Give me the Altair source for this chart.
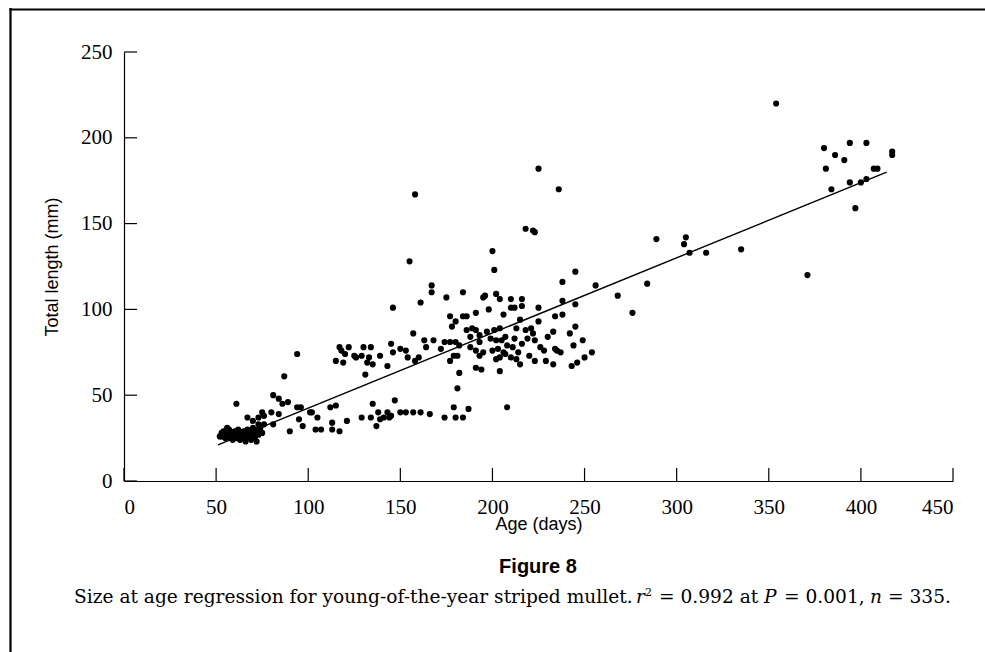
import altair as alt
import pandas as pd

# ---------------- data ----------------
days = [
    # early cluster
    52, 53, 53, 54, 54, 55, 55, 56, 56, 57, 57, 58, 58, 59, 59, 60, 60, 61, 61, 62,
    62, 63, 63, 64, 64, 65, 65, 66, 66, 67, 67, 68, 68, 69, 69, 70, 70, 71, 71, 72,
    72, 73, 73, 74, 74, 75, 76, 61, 67, 75, 73, 76, 70,
    # 80-105 days
    81, 84, 87, 94, 86, 80, 81, 90, 95, 97, 94, 101, 89, 96, 84,
    # lower band
    104, 107, 113, 117, 102, 105, 112, 115, 113, 121, 129, 134, 135, 137, 138, 141, 143, 145, 147, 150,
    153, 157, 161, 166, 174, 179, 180, 184, 187, 181, 144, 139, 208,
    # upper band
    117, 122, 115, 119, 125, 126, 130, 134, 129, 133, 132, 135, 131, 139, 143, 145, 146, 150, 153, 154,
    158, 160, 157, 146, 161, 155, 167, 167, 175, 184, 120, 118, 158,
    # dense middle
    200, 201, 163, 164, 168, 172, 174, 177, 180, 178, 177, 180, 182, 179, 181, 177, 182, 184, 186, 191,
    198, 206, 210, 212, 216, 216, 202, 196, 195, 204, 210, 186, 189, 191, 188, 193, 197, 199, 188, 193,
    191, 193, 195, 191, 194, 200, 201, 204, 202, 205, 207, 203, 206, 208, 204, 210, 202, 204, 207, 211,
    212, 213, 215, 218, 219, 216, 214, 213, 215, 220, 221, 222, 223, 225, 225, 226, 228, 223, 229, 230,
    233, 234, 235, 237, 233, 234, 238, 238, 238, 245, 245, 245, 242, 244, 249, 254, 250, 246, 243, 256,
    268,
    # outliers
    225, 236, 218, 222, 223, 276, 284, 289,
    # late fish
    305, 304, 307, 316, 335, 354, 371, 380, 394, 403, 386, 391, 381, 407, 409, 417, 417, 384, 394, 400,
    403, 397,
]
lengths = [
    26, 28, 26, 27, 29, 25, 29, 27, 31, 26, 30, 28, 25, 27, 24, 29, 26, 28, 25, 27,
    30, 26, 24, 28, 26, 27, 29, 25, 23, 28, 30, 26, 27, 29, 24, 27, 31, 28, 25, 23,
    30, 27, 33, 29, 31, 28, 33, 45, 37, 40, 37, 38, 35,
    50, 48, 61, 74, 45, 40, 33, 29, 36, 32, 43, 40, 46, 43, 39,
    30, 30, 30, 29, 40, 37, 43, 44, 34, 35, 37, 37, 45, 32, 40, 37, 40, 38, 47, 40,
    40, 40, 40, 39, 37, 43, 37, 37, 42, 54, 37, 36, 43,
    78, 78, 70, 69, 73, 72, 78, 78, 73, 72, 69, 68, 62, 73, 67, 80, 75, 77, 76, 72,
    70, 72, 86, 101, 104, 128, 114, 110, 107, 110, 74, 76, 167,
    134, 123, 82, 78, 82, 77, 81, 96, 93, 90, 81, 81, 79, 73, 73, 70, 63, 96, 96, 98,
    100, 97, 106, 101, 106, 102, 109, 108, 107, 106, 101, 88, 89, 88, 84, 85, 87, 83, 78, 81,
    76, 73, 75, 66, 65, 76, 88, 89, 82, 82, 84, 77, 75, 79, 72, 72, 71, 64, 74, 78,
    83, 89, 94, 88, 83, 80, 75, 71, 68, 73, 89, 86, 82, 93, 101, 78, 76, 70, 70, 84,
    87, 77, 76, 75, 68, 96, 97, 105, 116, 122, 103, 90, 86, 79, 82, 75, 72, 69, 67, 114,
    108,
    182, 170, 147, 146, 145, 98, 115, 141,
    142, 138, 133, 133, 135, 220, 120, 194, 197, 197, 190, 187, 182, 182, 182, 192, 190, 170, 174, 174,
    176, 159,
]

fit_days = [51, 414]
fit_lengths = [21, 180]

x_ticks = [0, 50, 100, 150, 200, 250, 300, 350, 400, 450]
y_ticks = [0, 50, 100, 150, 200, 250]

fig_label = "Figure 8"
caption_parts = [
    "Size at age regression for young-of-the-year striped mullet.",
    "r", "2", "= 0.992 at", "P", "= 0.001,", "n", "= 335.",
]

# ---------------- layout ----------------
W, H = 829, 429
PAD_L, PAD_T = 124, 52
SERIF = "DejaVu Serif"
TICK_FONT = "Liberation Serif, Times New Roman, serif"

pts = pd.DataFrame({"Age": days, "Length": lengths})
fit = pd.DataFrame({"Age": fit_days, "Length": fit_lengths})
xt = pd.DataFrame({"Age": x_ticks})
yt = pd.DataFrame({"Length": y_ticks})
one = pd.DataFrame({"k": [0]})

xs = alt.Scale(domain=[0, 450], nice=False, zero=False)
ys = alt.Scale(domain=[0, 250], nice=False, zero=False)

points = alt.Chart(pts).mark_circle(size=38, color="black", opacity=1).encode(
    x=alt.X("Age:Q", scale=xs,
            axis=alt.Axis(title="Age (days)", values=x_ticks, labelPadding=15,
                          labelFont=TICK_FONT, labelFontSize=21,
                          titleY=48, titleBaseline="alphabetic")),
    y=alt.Y("Length:Q", scale=ys,
            axis=alt.Axis(title="Total length (mm)", values=y_ticks, labelPadding=12,
                          labelFont=TICK_FONT, labelFontSize=21,
                          titleX=-67, titleY=H / 2, titleBaseline="alphabetic")),
)

line = alt.Chart(fit).mark_line(color="black", strokeWidth=1.4).encode(
    x=alt.X("Age:Q", scale=xs), y=alt.Y("Length:Q", scale=ys)
)

xtick_rules = alt.Chart(xt).mark_rule(color="black", strokeWidth=1.2).encode(
    x=alt.X("Age:Q", scale=xs), y=alt.value(H), y2=alt.value(H - 13)
)
ytick_rules = alt.Chart(yt).mark_rule(color="black", strokeWidth=1.2).encode(
    y=alt.Y("Length:Q", scale=ys), x=alt.value(0), x2=alt.value(13)
)

frame_left = alt.Chart(one).mark_rule(color="black", strokeWidth=2.2).encode(
    x=alt.value(10.5 - PAD_L), y=alt.value(8 - PAD_T), y2=alt.value(700)
)
frame_top = alt.Chart(one).mark_rule(color="black", strokeWidth=2.2).encode(
    y=alt.value(9.5 - PAD_T), x=alt.value(9.5 - PAD_L), x2=alt.value(900)
)

fig_text = alt.Chart(one).mark_text(
    font="Liberation Sans", fontWeight="bold", fontSize=20, align="center", baseline="middle",
    color="black"
).encode(x=alt.value(538 - PAD_L), y=alt.value(567 - PAD_T), text=alt.value(fig_label))

CS = 18.6
cap_y = 603 - PAD_T
cap_specs = [
    (caption_parts[0], 74, "normal", CS, 0),
    (caption_parts[1], 636, "italic", CS, 0),
    (caption_parts[2], 645, "normal", 11, -7),
    (caption_parts[3], 659, "normal", CS, 0),
    (caption_parts[4], 764, "italic", CS, 0),
    (caption_parts[5], 784, "normal", CS, 0),
    (caption_parts[6], 870, "italic", CS, 0),
    (caption_parts[7], 888, "normal", CS, 0),
]
cap_layers = []
for txt, xpos, style, fs, dy in cap_specs:
    cap_layers.append(
        alt.Chart(one).mark_text(
            font=SERIF, fontStyle=style, fontSize=fs, align="left", baseline="alphabetic",
            color="black"
        ).encode(x=alt.value(xpos - PAD_L), y=alt.value(cap_y + dy), text=alt.value(txt))
    )

chart = alt.layer(
    points, line, xtick_rules, ytick_rules, frame_left, frame_top, fig_text, *cap_layers
).properties(
    width=W, height=H,
    padding={"left": PAD_L, "top": PAD_T, "right": 985 - PAD_L - W, "bottom": 652 - PAD_T - H},
    autosize=alt.AutoSizeParams(type="none"),
    background="white",
).configure_view(stroke=None).configure_axis(
    grid=False, ticks=False, domainColor="black", domainWidth=1.2,
    labelFont=TICK_FONT, labelFontSize=21, labelColor="black",
    titleFont="Liberation Sans", titleFontSize=18, titleFontWeight="normal", titleColor="black",
)

chart.save("out.html", embed_options={"renderer": "svg", "actions": False})
